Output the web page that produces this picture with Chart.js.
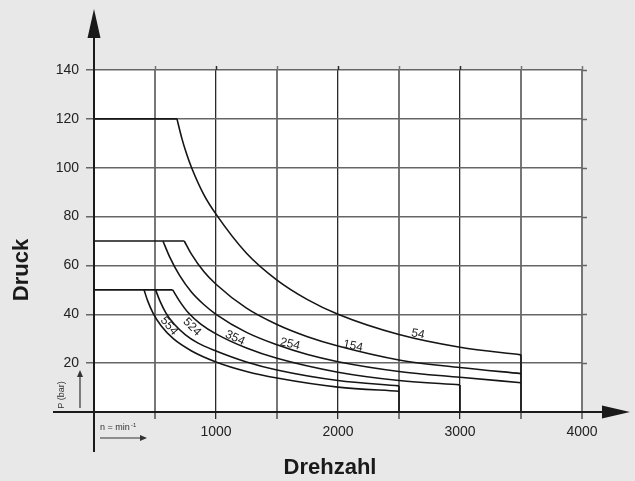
<!DOCTYPE html>
<html lang="de">
<head>
    <meta charset="UTF-8">
    <title>Druck / Drehzahl</title>
    <script src="https://cdn.jsdelivr.net/npm/chart.js"></script>
    <style>
        body { margin: 0; background: #e8e8e8; }
        #pumpChart { display: block; }
    </style>
</head>
<body>
    <canvas id="pumpChart" width="635" height="481"></canvas>

    <script>
        // Kennlinien: Drehzahl (min-1) -> Druck (bar)
        const flat120 = { rpm: [0, 680], bar: [120, 120] };
        const flat70 = { rpm: [0, 740], bar: [70, 70] };
        const flat50 = { rpm: [0, 645], bar: [50, 50] };

        const rpm54 = [680, 720, 760, 800, 900, 1000, 1250, 1500, 1750, 2000, 2500, 3000, 3500];
        const bar54 = [120, 112, 105.5, 100, 89, 81, 65, 54, 46, 40, 31.7, 26.5, 23.4];

        const rpm154 = [740, 800, 900, 1000, 1250, 1500, 1750, 2000, 2500, 3000, 3500];
        const bar154 = [70, 64.5, 57.5, 52.3, 42.5, 35.8, 30.8, 27, 21.3, 18.2, 15.7];

        const rpm254 = [565, 620, 700, 800, 900, 1000, 1250, 1500, 1750, 2000, 2500, 3000, 3500];
        const bar254 = [70, 63.5, 56, 49, 44, 40, 32.6, 27.5, 23.5, 20.6, 16.6, 14.2, 12];

        const rpm354 = [645, 700, 775, 875, 1000, 1250, 1500, 2000, 2500, 3000];
        const bar354 = [50, 45.5, 40.5, 36, 32, 26.2, 22, 16.3, 12.9, 11.1];

        const rpm524 = [505, 540, 590, 660, 750, 850, 1000, 1250, 1500, 2000, 2500];
        const bar524 = [50, 45.5, 40.5, 35.8, 31.6, 28.3, 25, 20.5, 17.2, 12.9, 10.7];

        const rpm554 = [410, 440, 484, 550, 650, 800, 1000, 1250, 1500, 2000, 2500];
        const bar554 = [50, 45.5, 40.5, 35.3, 30, 25, 20.5, 16.6, 13.9, 10.2, 8.5];

        // senkrechte Abschluesse
        const drops = [
            { rpm: [3500, 3500], bar: [23.4, 0] },
            { rpm: [3000, 3000], bar: [11.1, 0] },
            { rpm: [2500, 2500], bar: [10.7, 0] }
        ];

        // Kurvenbeschriftung: Text, Drehzahl, Druck, Winkel (Grad)
        const curveLabels = ['54', '154', '254', '354', '524', '554'];
        const labelRpm = [2656, 2123, 1607, 1156, 803, 615];
        const labelBar = [31.9, 27, 27.8, 30.3, 34.8, 35.2];
        const labelAngle = [12, 12, 14, 25, 45, 50];

        const xTickLabels = [1000, 2000, 3000, 4000];
        const yTickLabels = [20, 40, 60, 80, 100, 120, 140];

        const FONT = '"Liberation Sans", Arial, sans-serif';

        function pts(rpm, bar) {
            return rpm.map((n, i) => ({ x: n, y: bar[i] }));
        }

        function lineSet(rpm, bar, smooth) {
            return {
                data: pts(rpm, bar),
                borderColor: '#151515',
                borderWidth: 1.6,
                pointRadius: 0,
                fill: false,
                tension: 0,
                cubicInterpolationMode: smooth ? 'monotone' : 'default'
            };
        }

        const datasets = [
            lineSet(flat120.rpm, flat120.bar, false),
            lineSet(flat70.rpm, flat70.bar, false),
            lineSet(flat50.rpm, flat50.bar, false),
            lineSet(rpm54, bar54, true),
            lineSet(rpm154, bar154, true),
            lineSet(rpm254, bar254, true),
            lineSet(rpm354, bar354, true),
            lineSet(rpm524, bar524, true),
            lineSet(rpm554, bar554, true)
        ];
        drops.forEach(d => datasets.push(lineSet(d.rpm, d.bar, false)));

        function arrowHead(ctx, x, y, dir, len, half) {
            ctx.beginPath();
            if (dir === 'up') {
                ctx.moveTo(x, y);
                ctx.lineTo(x - half, y + len);
                ctx.lineTo(x + half, y + len);
            } else {
                ctx.moveTo(x, y);
                ctx.lineTo(x - len, y - half);
                ctx.lineTo(x - len, y + half);
            }
            ctx.closePath();
            ctx.fill();
        }

        const decor = {
            id: 'decor',
            beforeDraw(chart) {
                const { ctx, chartArea: a } = chart;
                ctx.save();
                ctx.fillStyle = '#ffffff';
                ctx.fillRect(a.left, a.top, a.right - a.left, a.bottom - a.top);
                ctx.restore();
            },
            afterDraw(chart) {
                const { ctx, chartArea: a } = chart;
                const xs = chart.scales.x, ys = chart.scales.y;
                const x0 = xs.getPixelForValue(0), y0 = ys.getPixelForValue(0);
                ctx.save();

                // Gitter-Ueberstaende oben und rechts
                ctx.lineWidth = 1.5;
                for (let n = 500; n <= 4000; n += 500) {
                    const px = Math.round(xs.getPixelForValue(n)) + 0.5;
                    ctx.strokeStyle = n % 1000 === 0 && n < 4000 ? '#2a2a2a' : '#777';
                    ctx.beginPath(); ctx.moveTo(px, a.top - 4); ctx.lineTo(px, a.top); ctx.stroke();
                }
                ctx.strokeStyle = '#666';
                yTickLabels.forEach(v => {
                    const py = Math.round(ys.getPixelForValue(v)) + 0.5;
                    ctx.beginPath(); ctx.moveTo(a.right, py); ctx.lineTo(a.right + 5, py); ctx.stroke();
                });

                // Achsen mit Pfeilen
                ctx.strokeStyle = '#1a1a1a';
                ctx.fillStyle = '#1a1a1a';
                ctx.lineWidth = 2;
                ctx.beginPath(); ctx.moveTo(x0, y0 + 40); ctx.lineTo(x0, 30); ctx.stroke();
                arrowHead(ctx, x0, 9, 'up', 29, 6.5);
                ctx.beginPath(); ctx.moveTo(53, y0); ctx.lineTo(610, y0); ctx.stroke();
                arrowHead(ctx, 630, y0, 'right', 28, 6.5);

                // Kurvenbeschriftung
                ctx.fillStyle = '#222';
                ctx.font = '12px ' + FONT;
                ctx.textAlign = 'center';
                ctx.textBaseline = 'middle';
                curveLabels.forEach((t, i) => {
                    ctx.save();
                    ctx.translate(xs.getPixelForValue(labelRpm[i]), ys.getPixelForValue(labelBar[i]));
                    ctx.rotate(labelAngle[i] * Math.PI / 180);
                    ctx.fillText(t, 0, 0);
                    ctx.restore();
                });

                // Achsentitel
                ctx.fillStyle = '#1a1a1a';
                ctx.font = 'bold 22px ' + FONT;
                ctx.fillText('Drehzahl', 330, 468);
                ctx.save();
                ctx.translate(22, 270);
                ctx.rotate(-Math.PI / 2);
                ctx.fillText('Druck', 0, 0);
                ctx.restore();

                // Einheiten
                ctx.font = '9px ' + FONT;
                ctx.fillStyle = '#333';
                ctx.save();
                ctx.translate(62, 395);
                ctx.rotate(-Math.PI / 2);
                ctx.fillText('P (bar)', 0, 0);
                ctx.restore();
                ctx.textAlign = 'left';
                ctx.fillText('n = min', 100, 428);
                ctx.font = '6px ' + FONT;
                ctx.fillText('-1', 131, 425);

                ctx.strokeStyle = '#333';
                ctx.fillStyle = '#333';
                ctx.lineWidth = 1.2;
                ctx.beginPath(); ctx.moveTo(80, 408); ctx.lineTo(80, 376); ctx.stroke();
                arrowHead(ctx, 80, 370, 'up', 7, 3);
                ctx.beginPath(); ctx.moveTo(100, 438); ctx.lineTo(141, 438); ctx.stroke();
                arrowHead(ctx, 147, 438, 'right', 7, 3);

                ctx.restore();
            }
        };

        const ctx = document.getElementById('pumpChart').getContext('2d');
        const pumpChart = new Chart(ctx, {
            type: 'line',
            data: { datasets: datasets },
            options: {
                responsive: false,
                animation: false,
                layout: { padding: { top: 70, right: 53, left: 0, bottom: 0 } },
                plugins: {
                    legend: { display: false },
                    tooltip: { enabled: false }
                },
                scales: {
                    x: {
                        type: 'linear',
                        min: 0,
                        max: 4000,
                        afterFit: s => { s.height = 69; },
                        border: { display: false },
                        grid: {
                            color: c => (c.tick.value % 1000 === 0 && c.tick.value < 4000) ? '#2a2a2a' : '#777',
                            lineWidth: c => (c.tick.value % 1000 === 0 && c.tick.value < 4000) ? 1.3 : 2,
                            tickLength: 7
                        },
                        ticks: {
                            stepSize: 500,
                            padding: 5,
                            maxRotation: 0,
                            autoSkip: false,
                            color: '#222',
                            font: { family: FONT, size: 14 },
                            callback: v => xTickLabels.includes(v) ? String(v) : ''
                        }
                    },
                    y: {
                        min: 0,
                        max: 140,
                        afterFit: s => { s.width = 94; },
                        border: { display: false },
                        grid: {
                            color: '#666',
                            lineWidth: 1.5,
                            tickLength: 8
                        },
                        ticks: {
                            stepSize: 20,
                            padding: 7,
                            color: '#222',
                            font: { family: FONT, size: 14 },
                            callback: v => yTickLabels.includes(v) ? String(v) : ''
                        }
                    }
                }
            },
            plugins: [decor]
        });
    </script>
</body>
</html>
